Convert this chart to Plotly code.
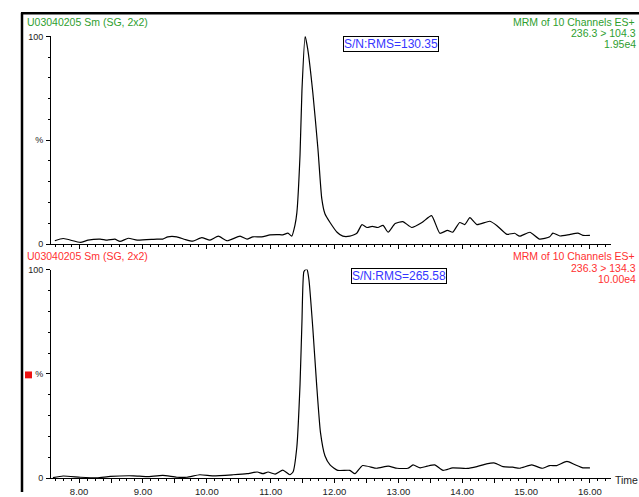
import plotly.graph_objects as go

W, H = 639, 497

# ---------------- data ----------------
time_top = [7.62, 7.75, 8.02, 8.14, 8.33, 8.44, 8.56, 8.64, 8.77, 8.91, 9.22, 9.31, 9.39, 9.53,
            9.66, 9.78, 9.92, 10.05, 10.18, 10.32, 10.52, 10.63, 10.72, 10.86, 10.99, 11.11,
            11.19, 11.27, 11.33, 11.38, 11.41, 11.46, 11.49, 11.54, 11.58, 11.66, 11.74, 11.80,
            11.85, 11.93, 12.04, 12.13, 12.24, 12.35, 12.43, 12.51, 12.59, 12.68, 12.76, 12.84,
            12.95, 13.07, 13.21, 13.37, 13.52, 13.65, 13.77, 13.85, 13.96, 14.04, 14.12, 14.23,
            14.43, 14.54, 14.70, 14.82, 14.90, 15.06, 15.21, 15.37, 15.42, 15.53, 15.68, 15.81,
            15.89, 16.00]
int_top = [1.6, 2.7, 0.8, 1.9, 2.4, 1.9, 2.4, 1.3, 2.8, 1.9, 2.4, 2.4, 3.5, 3.5,
           2.2, 1.4, 3.1, 1.9, 3.8, 1.6, 3.8, 2.4, 3.5, 3.5, 4.4, 4.6,
           4.4, 5.3, 3.8, 9.0, 15.0, 43.0, 74.0, 100.0, 94.0, 73.0, 46.0, 22.0,
           14.6, 10.4, 5.7, 3.8, 3.8, 5.2, 9.4, 8.0, 8.5, 8.0, 9.0, 5.7,
           9.9, 10.8, 8.0, 10.4, 13.7, 5.2, 6.6, 5.7, 10.4, 9.4, 12.7, 9.4,
           11.0, 9.0, 4.7, 5.2, 3.8, 5.7, 2.4, 3.5, 5.3, 3.9, 4.6, 5.3,
           4.2, 4.2]

time_bot = [7.59, 7.75, 8.02, 8.28, 8.49, 8.85, 9.06, 9.31, 9.53, 9.69, 9.89, 10.10, 10.41,
            10.63, 10.79, 10.88, 10.96, 11.07, 11.19, 11.30, 11.35, 11.41, 11.46, 11.49, 11.52,
            11.55, 11.57, 11.60, 11.66, 11.72, 11.78, 11.85, 11.93, 12.05, 12.24, 12.32, 12.44,
            12.66, 12.84, 12.98, 13.15, 13.23, 13.34, 13.45, 13.57, 13.70, 13.85, 14.07, 14.23,
            14.38, 14.51, 14.64, 14.79, 14.90, 15.09, 15.25, 15.37, 15.48, 15.64, 15.76, 15.89,
            16.00]
int_bot = [0.3, 1.1, 0.5, 0.2, 0.9, 1.2, 0.8, 1.4, 0.5, 0.5, 1.7, 1.2, 1.7,
           2.2, 3.0, 2.2, 3.0, 2.0, 3.9, 1.7, 3.0, 15.0, 45.0, 75.0, 99.0,
           100.0, 100.0, 95.0, 72.0, 45.0, 22.0, 10.8, 6.4, 3.8, 3.8, 2.2, 6.1,
           4.8, 5.8, 4.8, 4.8, 6.4, 5.0, 5.8, 6.4, 3.8, 5.0, 4.7, 5.6,
           6.9, 7.3, 5.6, 5.3, 4.8, 6.4, 4.8, 6.1, 6.1, 8.1, 6.6, 5.0,
           5.0]

x_tick_vals = [8.0, 8.5, 9.0, 9.5, 10.0, 10.5, 11.0, 11.5, 12.0, 12.5, 13.0, 13.5, 14.0,
               14.5, 15.0, 15.5, 16.0]
x_tick_text = ["8.00", "", "9.00", "", "10.00", "", "11.00", "", "12.00", "", "13.00", "",
               "14.00", "", "15.00", "", "16.00"]
y_tick_vals = [0, 50, 100]
y_tick_text = ["0", "%", "100"]

title_left = "U03040205 Sm (SG, 2x2)"
header_top = ["MRM of 10 Channels ES+", "236.3 > 104.3", "1.95e4"]
header_bot = ["MRM of 10 Channels ES+", "236.3 > 134.3", "10.00e4"]
sn_top = "S/N:RMS=130.35"
sn_bot = "S/N:RMS=265.58"
x_title = "Time"

# ---------------- styling helpers ----------------
FONT = "Liberation Sans, Arial, sans-serif"
GREEN = "#2e9e2e"
RED = "#ff3030"
BLUE = "#3535ff"
TXT = "#222222"


def px(x):
    return x / W


def py(y):
    return 1 - y / H


fig = go.Figure()
line_style = dict(color="black", width=1.2, shape="spline", smoothing=0.5)
fig.add_trace(go.Scatter(x=time_top, y=int_top, mode="lines", line=line_style,
                         xaxis="x", yaxis="y", hoverinfo="skip"))
fig.add_trace(go.Scatter(x=time_bot, y=int_bot, mode="lines", line=line_style,
                         xaxis="x2", yaxis="y2", hoverinfo="skip"))

xdom = [px(51), px(611)]
xcommon = dict(range=[7.56, 16.33], domain=xdom, showline=True, linecolor="black",
               linewidth=1, ticks="outside", ticklen=4, tickwidth=1, tickcolor="black",
               tickmode="array", tickvals=x_tick_vals, ticktext=x_tick_text,
               minor=dict(tickmode="linear", tick0=8, dtick=0.125, ticks="outside",
                          ticklen=2, tickcolor="black", tickwidth=1),
               showgrid=False, zeroline=False, fixedrange=True,
               tickfont=dict(family=FONT, size=9.5, color=TXT))
ycommon = dict(range=[0, 100], showline=True, linecolor="black", linewidth=1,
               ticks="outside", ticklen=4, tickwidth=1, tickcolor="black",
               tickmode="array", tickvals=y_tick_vals, ticktext=y_tick_text,
               minor=dict(tickmode="linear", tick0=0, dtick=10, ticks="outside",
                          ticklen=2, tickcolor="black", tickwidth=1),
               showgrid=False, zeroline=False, fixedrange=True,
               tickfont=dict(family=FONT, size=9, color=TXT), ticklabelstandoff=1)

fig.update_layout(
    width=W, height=H, margin=dict(l=0, r=0, t=0, b=0),
    paper_bgcolor="white", plot_bgcolor="white", showlegend=False,
    xaxis=dict(xcommon, anchor="y", showticklabels=False),
    yaxis=dict(ycommon, anchor="x", domain=[py(244), py(32)]),
    xaxis2=dict(xcommon, anchor="y2", showticklabels=True),
    yaxis2=dict(ycommon, anchor="x2", domain=[py(483), py(270)]),
)

ann = []


def text(t, x, y, color, size=10.5, xanchor="left", **kw):
    ann.append(dict(text=t, x=px(x), y=py(y), xref="paper", yref="paper",
                    xanchor=xanchor, yanchor="middle", showarrow=False,
                    font=dict(family=FONT, size=size, color=color), **kw))


# top panel texts
text(title_left, 25, 17, GREEN)
text(header_top[0], 637, 17, GREEN, xanchor="right")
text(header_top[1], 638, 28.5, GREEN, xanchor="right")
text(header_top[2], 638, 40, GREEN, xanchor="right")
text(sn_top, 390.5, 39.5, BLUE, size=12, xanchor="center",
     bordercolor="black", borderwidth=1, borderpad=0, bgcolor="white")

# bottom panel texts
text(title_left, 25, 256.5, RED)
text(header_bot[0], 637, 256.5, RED, xanchor="right")
text(header_bot[1], 638, 268, RED, xanchor="right")
text(header_bot[2], 638, 280, RED, xanchor="right")
text(sn_bot, 398.5, 276.5, BLUE, size=12, xanchor="center",
     bordercolor="black", borderwidth=1, borderpad=0, bgcolor="white")

text(x_title, 613, 485, TXT, size=10.5)

fig.update_layout(annotations=ann)

fig.update_layout(shapes=[
    dict(type="line", xref="paper", yref="paper", x0=px(21), x1=px(639), y0=py(8.5), y1=py(8.5),
         line=dict(color="black", width=2.5)),
    dict(type="line", xref="paper", yref="paper", x0=px(22), x1=px(22), y0=py(8), y1=py(497),
         line=dict(color="black", width=2.5)),
    dict(type="rect", xref="paper", yref="paper", x0=px(25), x1=px(32), y0=py(381), y1=py(374),
         fillcolor="#ee1111", line=dict(width=0)),
])

fig.write_html(
    "out.html",
    config={"displayModeBar": False},
    post_script="document.body.style.margin='0';document.body.style.overflow='hidden';",
)
